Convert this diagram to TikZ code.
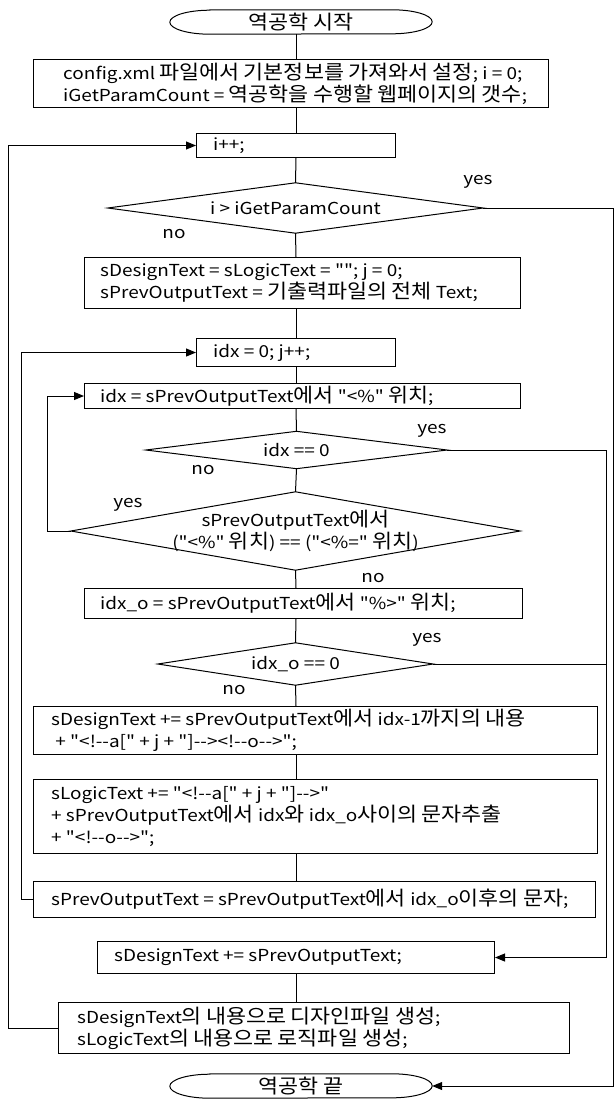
\documentclass[tikz,border=0pt]{standalone}
\usepackage{fontspec}
\newfontfamily\krL{Noto Sans CJK KR}[FakeStretch=1.15]
\newfontfamily\krH{Noto Sans CJK KR}[Scale=1.2,FakeStretch=1.1]
\usetikzlibrary{arrows.meta,calc}
\XeTeXinterchartokenstate=1
\newXeTeXintercharclass\HanClass
\newcount\hcnt
\hcnt="AC00
\loop
  \XeTeXcharclass\hcnt=\HanClass
  \ifnum\hcnt<"D7A3 \advance\hcnt by 1
\repeat
\XeTeXinterchartoks 0 \HanClass = {\krH}
\XeTeXinterchartoks 4095 \HanClass = {\krH}
\XeTeXinterchartoks \HanClass 0 = {\krL}
\XeTeXinterchartoks \HanClass 4095 = {\krL}
\begin{document}
\begin{tikzpicture}[x=1pt,y=-1pt,
  every node/.style={font=\krL\fontsize{16.5}{22}\selectfont},
  box/.style={draw, line width=1pt, anchor=north west, inner sep=0pt},
  txt/.style={anchor=west, align=left, inner sep=0pt},
  dec/.style={inner sep=0pt, align=center},
  term/.style={inner sep=0pt},
  lbl/.style={inner sep=0pt},
  ln/.style={line width=1pt},
  arr/.style={line width=1pt, -{Triangle[length=10pt,width=8pt]}},
]
\useasboundingbox (0,0) rectangle (615,1100);
\coordinate (cx) at (296,0);
\coordinate (oL) at (8,0);
\coordinate (jL) at (21,0);
\coordinate (iL) at (47,0);
\coordinate (oR) at (613,0);
\coordinate (iR) at (606,0);

% start terminal
\node[term, minimum width=262pt, minimum height=24pt] (start) at (301,22) {역공학 시작};
\draw[ln] ([xshift=40pt]start.north west) -- ([xshift=-40pt]start.north east)
  arc[start angle=90, end angle=-90, x radius=40pt, y radius=12pt]
  -- ([xshift=40pt]start.south west)
  arc[start angle=270, end angle=90, x radius=40pt, y radius=12pt] -- cycle;

\node[box, minimum width=515pt, minimum height=48pt] (b1) at (33,59) {};
\node[txt] (t1) at ([xshift=30pt]b1.west) {config.xml 파일에서 기본정보를 가져와서 설정; i = 0;\\iGetParamCount = 역공학을 수행할 웹페이지의 갯수;};

\node[box, minimum width=199pt, minimum height=24pt] (inc) at (196,133) {};
\node[txt] (tinc) at ([xshift=17pt]inc.west) {i++;};

\node[dec, minimum width=375pt, minimum height=50pt] (d1) at (295.5,208) {i > iGetParamCount};
\draw[ln] (d1.north) -- (d1.east) -- (d1.south) -- (d1.west) -- cycle;

\node[box, minimum width=436pt, minimum height=51pt] (b2) at (84,257) {};
\node[txt] (t2) at ([xshift=16pt]b2.west) {sDesignText = sLogicText = ""; j = 0;\\sPrevOutputText = 기출력파일의 전체 Text;};

\node[box, minimum width=199pt, minimum height=28pt] (b3) at (196,338) {};
\node[txt] (t3) at ([xshift=17pt]b3.west) {idx = 0; j++;};

\node[box, minimum width=436pt, minimum height=25pt] (b4) at (84,383) {};
\node[txt] (t4) at ([xshift=16pt]b4.west) {idx = sPrevOutputText에서 "<\%" 위치;};

\node[dec, minimum width=301pt, minimum height=37pt] (d2) at (296.5,450) {idx == 0};
\draw[ln] (d2.north) -- (d2.east) -- (d2.south) -- (d2.west) -- cycle;

\node[dec, minimum width=449pt, minimum height=78pt] (d3) at (295.5,531) {sPrevOutputText에서\\("<\%" 위치) == ("<\%=" 위치)};
\draw[ln] (d3.north) -- (d3.east) -- (d3.south) -- (d3.west) -- cycle;

\node[box, minimum width=438pt, minimum height=30pt] (b5) at (84,588) {};
\node[txt] (t5) at ([xshift=16pt]b5.west) {idx\_o = sPrevOutputText에서 "\%>" 위치;};

\node[dec, minimum width=275pt, minimum height=42pt] (d4) at (295.5,664) {idx\_o == 0};
\draw[ln] (d4.north) -- (d4.east) -- (d4.south) -- (d4.west) -- cycle;

\node[box, minimum width=564pt, minimum height=48pt] (b6) at (33,706) {};
\node[txt] (t6) at ([xshift=18pt]b6.west) {sDesignText += sPrevOutputText에서 idx-1까지의 내용\\\ + "<!--a[" + j + "]--><!--o-->";};

\node[box, minimum width=564pt, minimum height=74pt] (b7) at (33,779) {};
\node[txt] (t7) at ([xshift=18pt]b7.west) {sLogicText += "<!--a[" + j + "]-->"\\+ sPrevOutputText에서 idx와 idx\_o사이의 문자추출\\+ "<!--o-->";};

\node[box, minimum width=562pt, minimum height=36pt] (b8) at (33,881) {};
\node[txt] (t8) at ([xshift=18pt]b8.west) {sPrevOutputText = sPrevOutputText에서 idx\_o이후의 문자;};

\node[box, minimum width=397pt, minimum height=32pt] (b9) at (97,941) {};
\node[txt] (t9) at ([xshift=17pt]b9.west) {sDesignText += sPrevOutputText;};

\node[box, minimum width=511pt, minimum height=51pt] (b10) at (58,1002) {};
\node[txt] (t10) at ([xshift=19pt]b10.west) {sDesignText의 내용으로 디자인파일 생성;\\sLogicText의 내용으로 로직파일 생성;};

\node[term, minimum width=262pt, minimum height=24pt] (end) at (301,1086) {역공학 끝};
\draw[ln] ([xshift=40pt]end.north west) -- ([xshift=-40pt]end.north east)
  arc[start angle=90, end angle=-90, x radius=40pt, y radius=12pt]
  -- ([xshift=40pt]end.south west)
  arc[start angle=270, end angle=90, x radius=40pt, y radius=12pt] -- cycle;

% labels
\node[lbl] (y1) at (478,182) {yes};
\node[lbl] (n1) at (174,234) {no};
\node[lbl] (y2) at (432,431) {yes};
\node[lbl] (n2) at (203,470) {no};
\node[lbl] (y3) at (128,505) {yes};
\node[lbl] (n3) at (373,578) {no};
\node[lbl] (y4) at (427,640) {yes};
\node[lbl] (n4) at (234,690) {no};

% spine
\draw[ln] (start.south -| cx) -- (b1.north -| cx);
\draw[ln] (b1.south -| cx) -- (inc.north -| cx);
\draw[ln] (inc.south -| cx) -- (d1.north);
\draw[ln] (d1.south) -- (b2.north -| cx);
\draw[ln] (b2.south -| cx) -- (b3.north -| cx);
\draw[ln] (b3.south -| cx) -- (b4.north -| cx);
\draw[ln] (b4.south -| cx) -- (d2.north);
\draw[ln] (d2.south) -- (d3.north);
\draw[ln] (d3.south) -- (b5.north -| cx);
\draw[ln] (b5.south -| cx) -- (d4.north);
\draw[ln] (d4.south) -- (b6.north -| cx);
\draw[ln] (b6.south -| cx) -- (b7.north -| cx);
\draw[ln] (b7.south -| cx) -- (b8.north -| cx);
\draw[ln] (b9.south -| cx) -- (b10.north -| cx);

% loops
\draw[arr] (b10.west) -- (b10.west -| oL) -- (inc.west -| oL) -- (inc.west);
\draw[arr] (b8.west) -- (b8.west -| jL) -- (b3.west -| jL) -- (b3.west);
\draw[arr] (d3.west) -- (d3.west -| iL) -- (b4.west -| iL) -- (b4.west);
\draw[arr] (d1.east) -- (d1.east -| oR) -- (end.east -| oR) -- (end.east);
\draw[arr] (d2.east) -- (d2.east -| iR) -- (b9.east -| iR) -- (b9.east);
\draw[ln] (d4.east) -- (d4.east -| iR);
\end{tikzpicture}
\end{document}
